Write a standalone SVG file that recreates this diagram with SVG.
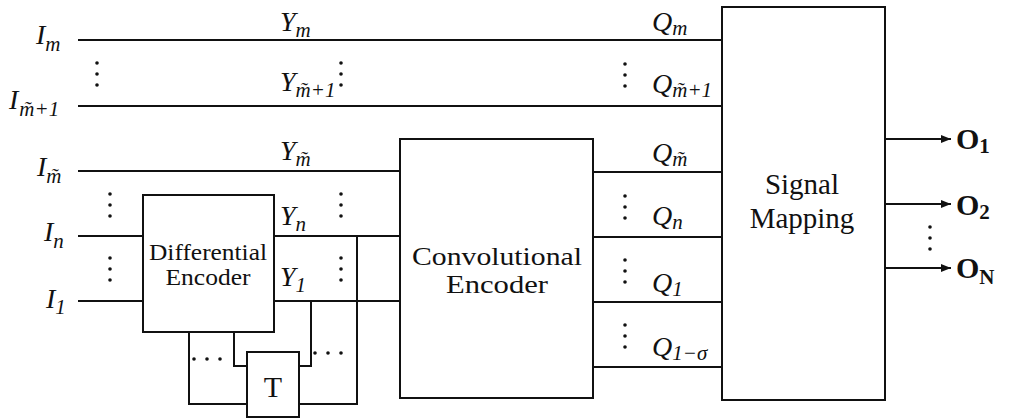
<svg xmlns="http://www.w3.org/2000/svg" width="1009" height="420" viewBox="0 0 1009 420">
<defs>
<style>
.box{fill:#fff;stroke:#111;stroke-width:2}
.w{fill:none;stroke:#111;stroke-width:2}
.mi{font-family:"Liberation Serif",serif;font-style:italic;font-size:28px;fill:#111}
.sub{font-size:21px}
.ob{font-family:"Liberation Serif",serif;font-weight:bold;font-size:30px;fill:#111}
.dot{fill:#111}
</style>
<marker id="arr" viewBox="0 0 10 8" refX="10" refY="4" markerWidth="10" markerHeight="8" markerUnits="userSpaceOnUse" orient="auto">
<path d="M0,0 L10,4 L0,8 z" fill="#111"/>
</marker>
<g id="vd"><circle cx="0" cy="0" r="1.8"/><circle cx="0" cy="11" r="1.8"/><circle cx="0" cy="22" r="1.8"/></g>
<g id="hd"><circle cx="0" cy="0" r="1.8"/><circle cx="13" cy="0" r="1.8"/><circle cx="26" cy="0" r="1.8"/></g>
</defs>
<rect width="1009" height="420" fill="#fff"/>

<g id="connectors">
<path class="w" d="M78,40 H722"/>
<path class="w" d="M78,106 H722"/>
<path class="w" d="M78,171 H400"/>
<path class="w" d="M78,236 H143"/>
<path class="w" d="M78,301 H143"/>
<path class="w" d="M274,236 H400"/>
<path class="w" d="M274,301 H400"/>
<path class="w" d="M593,172 H722"/>
<path class="w" d="M593,237 H722"/>
<path class="w" d="M593,302 H722"/>
<path class="w" d="M593,367 H722"/>
<path class="w" d="M189,332 V404 H247"/>
<path class="w" d="M234,332 V366 H247"/>
<path class="w" d="M299,366 H311 V301"/>
<path class="w" d="M299,404 H357 V236"/>
<path class="w" d="M885,139 H951" marker-end="url(#arr)"/>
<path class="w" d="M885,204 H951" marker-end="url(#arr)"/>
<path class="w" d="M885,268 H951" marker-end="url(#arr)"/>
</g>

<g id="diff-encoder" style="font-family:'Liberation Serif',serif;font-style:normal;text-anchor:middle;fill:#111">
<rect class="box" x="143" y="195" width="131" height="137"/>
<text x="208" y="260" font-size="23" textLength="118" lengthAdjust="spacingAndGlyphs">Differential</text>
<text x="208" y="285" font-size="23" textLength="85" lengthAdjust="spacingAndGlyphs">Encoder</text>
</g>

<g id="delay-T" style="font-family:'Liberation Serif',serif;font-style:normal;text-anchor:middle;fill:#111">
<rect class="box" x="247" y="352" width="52" height="65"/>
<text x="273" y="397" font-size="30">T</text>
</g>

<g id="conv-encoder" style="font-family:'Liberation Serif',serif;font-style:normal;text-anchor:middle;fill:#111">
<rect class="box" x="400" y="139" width="193" height="259"/>
<text x="497" y="265" font-size="26" textLength="170" lengthAdjust="spacingAndGlyphs">Convolutional</text>
<text x="497" y="293" font-size="26" textLength="102" lengthAdjust="spacingAndGlyphs">Encoder</text>
</g>

<g id="signal-mapping" style="font-family:'Liberation Serif',serif;font-style:normal;text-anchor:middle;fill:#111">
<rect class="box" x="722" y="7" width="163" height="393"/>
<text x="802" y="194" font-size="29">Signal</text>
<text x="802" y="228" font-size="29">Mapping</text>
</g>

<g id="labels">
<text class="mi" x="36" y="44">I<tspan class="sub" dy="7">m</tspan></text>
<text class="mi" x="9" y="109">I<tspan class="sub" dy="7" dx="1">m̃+1</tspan></text>
<text class="mi" x="37" y="176">I<tspan class="sub" dy="7">m̃</tspan></text>
<text class="mi" x="44" y="241">I<tspan class="sub" dy="7">n</tspan></text>
<text class="mi" x="46" y="308">I<tspan class="sub" dy="6">1</tspan></text>

<text class="mi" x="280" y="31">Y<tspan class="sub" dy="6">m</tspan></text>
<text class="mi" x="280" y="91">Y<tspan class="sub" dy="6">m̃+1</tspan></text>
<text class="mi" x="280" y="160">Y<tspan class="sub" dy="6">m̃</tspan></text>
<text class="mi" x="280" y="225">Y<tspan class="sub" dy="6">n</tspan></text>
<text class="mi" x="280" y="286">Y<tspan class="sub" dy="6">1</tspan></text>

<text class="mi" x="652" y="31">Q<tspan class="sub" dy="4">m</tspan></text>
<text class="mi" x="652" y="93">Q<tspan class="sub" dy="4">m̃+1</tspan></text>
<text class="mi" x="652" y="162">Q<tspan class="sub" dy="4">m̃</tspan></text>
<text class="mi" x="652" y="225">Q<tspan class="sub" dy="4">n</tspan></text>
<text class="mi" x="652" y="292">Q<tspan class="sub" dy="4">1</tspan></text>
<text class="mi" x="652" y="356">Q<tspan class="sub" dy="4">1−σ</tspan></text>

<text class="ob" x="956" y="149">O<tspan font-size="21" dy="4">1</tspan></text>
<text class="ob" x="956" y="215">O<tspan font-size="21" dy="4">2</tspan></text>
<text class="ob" x="956" y="278">O<tspan font-size="21" dy="6">N</tspan></text>
</g>

<g id="dots" class="dot">
<use href="#vd" x="97" y="63"/>
<use href="#vd" x="341" y="63"/>
<use href="#vd" x="625" y="64"/>
<use href="#vd" x="110" y="194"/>
<use href="#vd" x="110" y="258"/>
<use href="#vd" x="341" y="194"/>
<use href="#vd" x="341" y="258"/>
<use href="#vd" x="625" y="196"/>
<use href="#vd" x="625" y="260"/>
<use href="#vd" x="625" y="325"/>
<use href="#vd" x="930" y="227"/>
<use href="#hd" x="194" y="359"/>
<use href="#hd" x="315" y="353"/>
</g>
</svg>
